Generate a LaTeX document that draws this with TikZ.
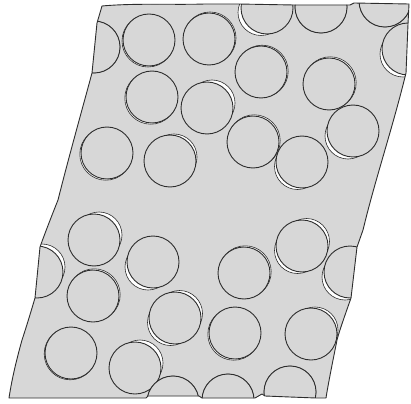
\documentclass[tikz,border=0pt]{standalone}
\definecolor{sheet}{RGB}{215,215,215}
\definecolor{ink}{RGB}{45,45,45}
\tikzset{
  outline/.style={draw=ink, line width=0.9pt, line join=round},
  ghoststyle/.style={fill=white, draw=ink, line width=0.6pt},
  holestyle/.style={fill=sheet, draw=ink, line width=0.9pt},
}
% hole with a near-coincident second outline (double line)
\newcommand\hole[4]{%
  \filldraw[ghoststyle, shift={(#3,#4)}] (#1,#2) circle (26pt);
  \filldraw[holestyle] (#1,#2) circle (26pt);}
% hole with a white crescent on the side of (dx,dy)
\newcommand\crescent[4]{%
  \filldraw[ghoststyle, shift={(#3,#4)}] (#1,#2) circle (23pt);
  \filldraw[holestyle] (#1,#2) circle (26pt);}
\newcommand\ghostonly[4]{\filldraw[ghoststyle, shift={(#3,#4)}] (#1,#2) circle (23pt);}
\def\sheetpath{(102,6) .. controls (135,3) and (175,5) .. (205,4)
  -- (238,4) -- (294,5) -- (350,5) -- (354,3) -- (409,4)
  -- (408,24) -- (406,73)
  .. controls (392,130) and (375,180) .. (363,230)
  -- (357,247) -- (351,298)
  .. controls (345,315) and (339,332) .. (337,340)
  .. controls (332,365) and (328,385) .. (326,398)
  -- (316,398) -- (290,397) -- (265,396) -- (262,394) -- (255,398)
  -- (202,398) -- (199,396) -- (148,396) -- (146,398)
  -- (9,398)
  .. controls (12,378) and (17,358) .. (22,340)
  .. controls (27,325) and (32,308) .. (35,298)
  -- (40,247)
  .. controls (45,233) and (52,215) .. (58,200)
  .. controls (68,160) and (82,110) .. (92,73)
  -- (97,23) -- cycle}
\begin{document}
\begin{tikzpicture}[x=1pt,y=-1pt]
\useasboundingbox (0,0) rectangle (411,403);
\fill[sheet] \sheetpath;
\begin{scope}
\clip \sheetpath;
% top row
\hole{94}{47}{0}{0}
\hole{149}{40}{-1}{1}
\hole{209}{39}{1}{-1}
\crescent{267}{8}{-6}{4.5}
\hole{321}{7}{0}{0}
\hole{385}{1}{0}{0}
\crescent{408}{49}{-5}{5}
% second
\hole{152}{97}{-1.2}{1.2}
\hole{261}{72}{1.2}{-0.8}
\hole{329}{84}{1.2}{-1.2}
\crescent{207}{108}{5}{-5}
\hole{107}{153}{-1.2}{1.2}
\crescent{170}{161}{4}{-4}
\hole{253}{142}{1.2}{-1.2}
\crescent{302}{162}{-4.5}{4.5}
\crescent{353}{131}{-5}{5}
% lower half
\crescent{94}{240}{5}{-5}
\crescent{153}{262}{-5}{5}
\crescent{37}{272}{5}{-5}
\hole{93}{296}{1.2}{-1.2}
\ghostonly{175}{318}{-4.5}{4.5}
\crescent{175}{318}{4.5}{-4.5}
\hole{71}{353}{-0.8}{0.8}
\crescent{135}{368}{5}{-5}
\hole{173}{402}{0}{0}
\hole{244}{273}{1.2}{-1.2}
\ghostonly{302}{246}{-4.5}{4.5}
\crescent{302}{246}{4.5}{-4.5}
\crescent{350}{272}{-5}{5}
\hole{235}{333}{-1.2}{1.2}
\crescent{311}{334}{4}{-4}
\hole{228}{400}{0}{0}
\hole{290}{392}{0}{0}
\end{scope}
\draw[outline] \sheetpath;
\end{tikzpicture}
\end{document}
